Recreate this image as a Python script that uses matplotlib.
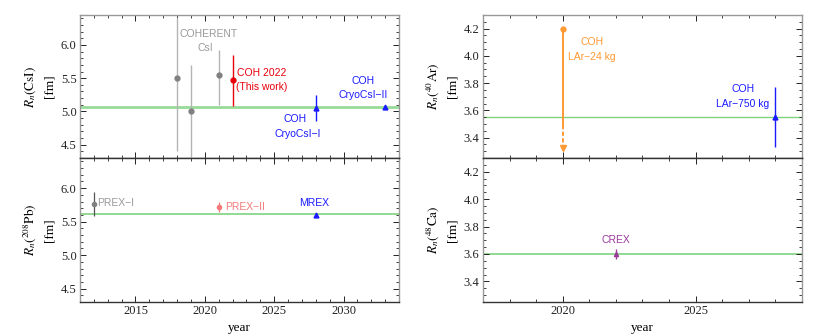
import matplotlib
matplotlib.use("Agg")
import matplotlib.pyplot as plt
from matplotlib.ticker import MultipleLocator

plt.rcParams["font.family"] = ["Liberation Serif", "DejaVu Serif"]
plt.rcParams["mathtext.fontset"] = "stix"

# CsI neutron radius points
csi_year = [2018, 2019, 2021, 2022, 2028, 2033]
csi_val = [5.50, 5.00, 5.55, 5.47, 5.05, 5.06]
csi_lo = [4.40, 4.20, 5.10, 5.08, 4.86, 5.04]
csi_hi = [6.40, 5.70, 5.93, 5.85, 5.25, 5.08]
csi_ref = 5.06

# 208Pb points
pb_year = [2012, 2021, 2028]
pb_val = [5.77, 5.72, 5.60]
pb_lo = [5.59, 5.65, 5.58]
pb_hi = [5.94, 5.80, 5.62]
pb_ref = 5.61

# 40Ar points
ar24_year = 2020
ar24_val = 4.20
ar24_solid_end = 3.49
ar24_arrow = 3.32
ar750_year = 2028
ar750_val = 3.55
ar750_lo = 3.33
ar750_hi = 3.77
ar_ref = 3.55

# 48Ca points
ca_year = [2022]
ca_val = [3.60]
ca_lo = [3.56]
ca_hi = [3.64]
ca_ref = 3.60

GRAY_BAR = "#b4b4b4"
GRAY_PT = "#808080"
GRAY_TXT = "#999999"
RED = "#e8000b"
BLUE = "#1a1aff"
ORANGE = "#ff9933"
PURPLE = "#9a3a9a"
SALMON = "#f47a7a"
GREEN = "#7fd37f"
SANS = ["Liberation Sans", "DejaVu Sans"]


def style(ax, xmaj, xmin, ymaj, ymin, top_panel):
    ax.xaxis.set_major_locator(MultipleLocator(xmaj))
    ax.xaxis.set_minor_locator(MultipleLocator(xmin))
    ax.yaxis.set_major_locator(MultipleLocator(ymaj))
    ax.yaxis.set_minor_locator(MultipleLocator(ymin))
    ax.tick_params(which="both", direction="in", top=True, right=True,
                   labelsize=9, colors="#222222", pad=2.5)
    ax.tick_params(which="major", length=4, width=0.7)
    ax.tick_params(which="minor", length=2, width=0.6)
    for s in ["left", "right", "top"]:
        ax.spines[s].set_color("#999999")
        ax.spines[s].set_linewidth(1.0)
    ax.spines["bottom"].set_color("#333333")
    ax.spines["bottom"].set_linewidth(1.0)
    if top_panel:
        ax.tick_params(labelbottom=False)
    else:
        ax.spines["top"].set_color("#333333")
        ax.set_xlabel("year", fontsize=9.5, labelpad=3)


def ylab(ax, text):
    ax.set_ylabel(text, fontsize=9.5, labelpad=4, linespacing=1.6)


def err(ax, x, v, lo, hi, color, bar, marker, ms, lw=1.0):
    ax.errorbar([x], [v], yerr=[[v - lo], [hi - v]], fmt=marker, color=color,
                ecolor=bar, ms=ms, elinewidth=lw, capsize=0, zorder=3)


fig = plt.figure(figsize=(8.3, 3.36), dpi=100)
ax1 = fig.add_axes([0.0964, 0.5298, 0.3843, 0.4256])
ax2 = fig.add_axes([0.0964, 0.1012, 0.3843, 0.4286])
ax3 = fig.add_axes([0.5819, 0.5298, 0.3843, 0.4256])
ax4 = fig.add_axes([0.5819, 0.1012, 0.3843, 0.4286])

# CsI
ax1.axhline(csi_ref, color=GREEN, lw=2.0, alpha=0.8, zorder=1)
cols = [GRAY_PT, GRAY_PT, GRAY_PT, RED, BLUE, BLUE]
bars = [GRAY_BAR, GRAY_BAR, GRAY_BAR, RED, BLUE, BLUE]
marks = ["o", "o", "o", "o", "^", "^"]
for i in range(len(csi_year)):
    err(ax1, csi_year[i], csi_val[i], csi_lo[i], csi_hi[i], cols[i], bars[i],
        marks[i], 3.5)
ax1.set_xlim(2011, 2034)
ax1.set_ylim(4.3, 6.45)
ax1.text(2018.2, 6.16, "COHERENT", color=GRAY_TXT, fontsize=7.5, family=SANS, va="center")
ax1.text(2020.6, 5.955, "CsI", color=GRAY_TXT, fontsize=7.5, family=SANS, va="center", ha="right")
ax1.text(2022.3, 5.58, "COH 2022", color=RED, fontsize=7.5, family=SANS, va="center")
ax1.text(2022.25, 5.36, "(This work)", color=RED, fontsize=7.5, family=SANS, va="center")
ax1.text(2026.5, 4.88, "COH", color=BLUE, fontsize=7.5, family=SANS, va="center", ha="center")
ax1.text(2026.7, 4.66, "CryoCsI\u2212I", color=BLUE, fontsize=7.5, family=SANS, va="center", ha="center")
ax1.text(2031.4, 5.45, "COH", color=BLUE, fontsize=7.5, family=SANS, va="center", ha="center")
ax1.text(2031.45, 5.24, "CryoCsI\u2212II", color=BLUE, fontsize=7.5, family=SANS, va="center", ha="center")
ylab(ax1, "$R_n(\\mathrm{CsI})$\n[fm]")
style(ax1, 5, 1, 0.5, 0.1, True)

# Pb
ax2.axhline(pb_ref, color=GREEN, lw=1.2, zorder=1)
err(ax2, pb_year[0], pb_val[0], pb_lo[0], pb_hi[0], GRAY_PT, "#555555", "o", 3, 0.9)
err(ax2, pb_year[1], pb_val[1], pb_lo[1], pb_hi[1], SALMON, SALMON, "o", 3, 0.9)
err(ax2, pb_year[2], pb_val[2], pb_lo[2], pb_hi[2], BLUE, BLUE, "^", 3.5, 0.9)
ax2.set_xlim(2011, 2034)
ax2.set_ylim(4.3, 6.45)
ax2.text(2012.25, 5.78, "PREX\u2212I", color=GRAY_TXT, fontsize=7.5, family=SANS, va="center")
ax2.text(2021.45, 5.72, "PREX\u2212II", color=SALMON, fontsize=7.5, family=SANS, va="center")
ax2.text(2027.9, 5.78, "MREX", color=BLUE, fontsize=7.5, family=SANS, va="center", ha="center")
ylab(ax2, "$R_n(^{208}\\mathrm{Pb})$\n[fm]")
style(ax2, 5, 1, 0.5, 0.1, False)

# Ar
ax3.axhline(ar_ref, color=GREEN, lw=1.0, zorder=1)
ax3.plot([ar24_year, ar24_year], [ar24_val, ar24_solid_end], color=ORANGE, lw=1.4, zorder=3)
ax3.plot([ar24_year, ar24_year], [ar24_solid_end, ar24_arrow + 0.02], color=ORANGE, lw=1.4,
         ls=(0, (2.2, 1.2)), zorder=3)
ax3.plot([ar24_year], [ar24_arrow], marker="v", color=ORANGE, ms=4.5, zorder=3)
ax3.plot([ar24_year], [ar24_val], marker="o", color=ORANGE, ms=3.5, zorder=3)
err(ax3, ar750_year, ar750_val, ar750_lo, ar750_hi, BLUE, BLUE, "^", 3.5, 1.0)
ax3.set_xlim(2017, 2029)
ax3.set_ylim(3.25, 4.3)
ax3.text(2021.1, 4.105, "COH", color=ORANGE, fontsize=7.5, family=SANS, va="center", ha="center")
ax3.text(2021.1, 3.995, "LAr\u221224 kg", color=ORANGE, fontsize=7.5, family=SANS, va="center", ha="center")
ax3.text(2026.77, 3.755, "COH", color=BLUE, fontsize=7.5, family=SANS, va="center", ha="center")
ax3.text(2026.77, 3.645, "LAr\u2212750 kg", color=BLUE, fontsize=7.5, family=SANS, va="center", ha="center")
ylab(ax3, "$R_n(^{40}\\mathrm{Ar})$\n[fm]")
style(ax3, 5, 1, 0.2, 0.05, True)

# Ca
ax4.axhline(ca_ref, color=GREEN, lw=1.2, zorder=1)
err(ax4, ca_year[0], ca_val[0], ca_lo[0], ca_hi[0], PURPLE, PURPLE, "^", 3, 1.0)
ax4.set_xlim(2017, 2029)
ax4.set_ylim(3.25, 4.3)
ax4.text(2022.0, 3.70, "CREX", color=PURPLE, fontsize=7.5, family=SANS, va="center", ha="center")
ylab(ax4, "$R_n(^{48}\\mathrm{Ca})$\n[fm]")
style(ax4, 5, 1, 0.2, 0.05, False)

fig.savefig("out.png", dpi=100)
